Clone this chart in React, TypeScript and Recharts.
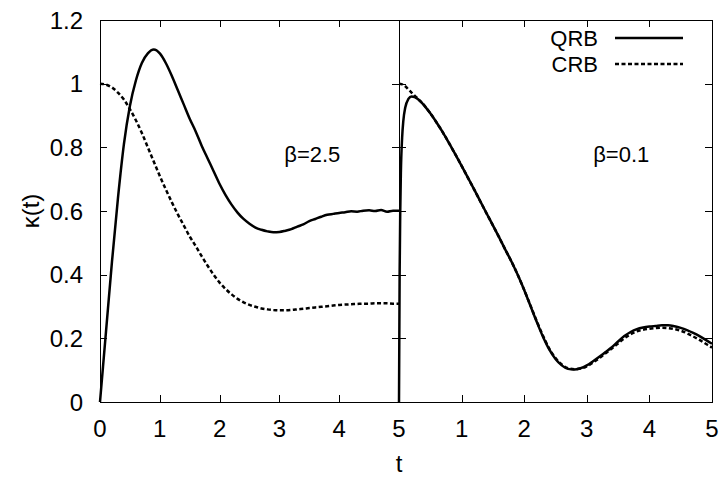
import React from 'react';
import {
  LineChart,
  Line,
  XAxis,
  YAxis,
  Legend,
  ReferenceDot
} from 'recharts';

// beta = 2.5 panel
const tLeft = [
  0, 0.1, 0.2, 0.3, 0.4, 0.5, 0.6, 0.7, 0.8, 0.9,
  1.0, 1.1, 1.2, 1.3, 1.4, 1.5, 1.6, 1.7, 1.8, 1.9,
  2.0, 2.1, 2.2, 2.3, 2.4, 2.5, 2.6, 2.7, 2.8, 2.9,
  3.0, 3.1, 3.2, 3.3, 3.4, 3.5, 3.6, 3.7, 3.8, 3.9,
  4.0, 4.1, 4.2, 4.3, 4.4, 4.5, 4.6, 4.7, 4.8, 4.9, 5.0
];
const qrbLeft = [
  0, 0.22, 0.44, 0.64, 0.81, 0.93, 1.01, 1.065, 1.095, 1.107,
  1.095, 1.065, 1.025, 0.98, 0.935, 0.89, 0.85, 0.805, 0.765, 0.725,
  0.685, 0.65, 0.62, 0.595, 0.575, 0.56, 0.548, 0.541, 0.536, 0.533,
  0.534, 0.538, 0.543, 0.551, 0.558, 0.568, 0.575, 0.582, 0.588, 0.591,
  0.594, 0.596, 0.599, 0.598, 0.601, 0.602, 0.6, 0.603, 0.598, 0.601, 0.601
];
const crbLeft = [
  1.0, 0.997, 0.988, 0.972, 0.95, 0.92, 0.885, 0.845, 0.8, 0.755,
  0.71, 0.668, 0.628, 0.59, 0.555, 0.52, 0.49, 0.458, 0.428, 0.4,
  0.375, 0.355, 0.338, 0.324, 0.313, 0.305, 0.299, 0.294, 0.291, 0.289,
  0.288, 0.288, 0.289, 0.291, 0.293, 0.295, 0.297, 0.299, 0.301, 0.303,
  0.305, 0.306, 0.307, 0.308, 0.309, 0.309, 0.31, 0.31, 0.31, 0.309, 0.309
];

// beta = 0.1 panel
const tRight = [
  0, 0.01, 0.02, 0.03, 0.05, 0.07, 0.1, 0.15, 0.2, 0.25, 0.3,
  0.4, 0.5, 0.6, 0.7, 0.8, 0.9, 1.0, 1.1, 1.2, 1.3,
  1.4, 1.5, 1.6, 1.7, 1.8, 1.9, 2.0, 2.1, 2.2, 2.3,
  2.4, 2.5, 2.6, 2.7, 2.8, 2.9, 3.0, 3.1, 3.2, 3.3,
  3.4, 3.5, 3.6, 3.7, 3.8, 3.9, 4.0, 4.1, 4.2, 4.3,
  4.4, 4.5, 4.6, 4.7, 4.8, 4.9, 5.0
];
const qrbRight = [
  0, 0.4, 0.6, 0.72, 0.83, 0.885, 0.925, 0.952, 0.96, 0.958, 0.952,
  0.932, 0.907, 0.878, 0.847, 0.813, 0.778, 0.742, 0.705, 0.668, 0.63,
  0.592, 0.555, 0.517, 0.478, 0.44, 0.398, 0.352, 0.302, 0.252, 0.205,
  0.165, 0.135, 0.115, 0.104, 0.102, 0.106, 0.115, 0.128, 0.142, 0.157,
  0.172, 0.19, 0.207, 0.22, 0.229, 0.234, 0.237, 0.239, 0.241, 0.241,
  0.238, 0.233, 0.226, 0.217, 0.207, 0.195, 0.183
];
const crbRight = [
  1.0, 1.0, 0.999, 0.999, 0.998, 0.996, 0.992, 0.982, 0.972, 0.962, 0.953,
  0.933, 0.907, 0.878, 0.847, 0.813, 0.778, 0.742, 0.705, 0.668, 0.63,
  0.592, 0.555, 0.517, 0.478, 0.44, 0.398, 0.352, 0.303, 0.254, 0.208,
  0.168, 0.138, 0.118, 0.106, 0.103, 0.105, 0.112, 0.124, 0.138, 0.153,
  0.168, 0.184, 0.2, 0.213, 0.222, 0.227, 0.23, 0.232, 0.233, 0.232,
  0.229, 0.224, 0.216, 0.206, 0.195, 0.183, 0.171
];

const tTicks = [0, 1, 2, 3, 4, 5];
const kTicks = [0, 0.2, 0.4, 0.6, 0.8, 1.0, 1.2];
const tMax = 5;
const kMax = 1.2;

const font = '"Liberation Sans", Arial, Helvetica, sans-serif';
const black = '#000';

// plot box geometry (page pixels), shared by the charts and the frame overlay
const plotTop = 20;
const plotBottom = 402;
const leftX0 = 100;
const splitX = 399;
const rightX1 = 712;
const tickLen = 7;

const seriesStyle: Record<string, { dash?: string }> = {
  QRB: {},
  CRB: { dash: '4 2.5' }
};

type Pt = { t: number; k: number };

const toPoints = (ts: number[], ks: number[]): Pt[] => ts.map((t, i) => ({ t, k: ks[i] }));

const tickStyle = { fill: black, fontSize: 24, fontFamily: font };
const blank = () => '';

// gnuplot-style box with inward ticks on all sides of both panels
function Frame() {
  const kToY = (k: number) => plotBottom - (k / kMax) * (plotBottom - plotTop);
  const panels = [
    [leftX0, splitX],
    [splitX, rightX1]
  ];
  const innerT = tTicks.slice(1, -1);
  const innerK = kTicks.slice(1, -1);
  const d: string[] = [];
  panels.forEach(([x0, x1]) => {
    const tToX = (t: number) => x0 + (t / tMax) * (x1 - x0);
    innerT.forEach(t => {
      const x = Math.round(tToX(t)) + 0.5;
      d.push(`M${x},${plotBottom}v${-tickLen}`);
      d.push(`M${x},${plotTop}v${tickLen}`);
    });
    innerK.forEach(k => {
      const y = Math.round(kToY(k)) + 0.5;
      d.push(`M${x0},${y}h${tickLen}`);
      d.push(`M${x1},${y}h${-tickLen}`);
    });
  });
  return (
    <svg
      width={722}
      height={477}
      style={{ position: 'absolute', left: 0, top: 0, pointerEvents: 'none' }}
    >
      <rect
        x={leftX0 + 0.5}
        y={plotTop + 0.5}
        width={rightX1 - leftX0}
        height={plotBottom - plotTop}
        fill="none"
        stroke={black}
        strokeWidth={1}
      />
      <line
        x1={splitX + 0.5}
        x2={splitX + 0.5}
        y1={plotTop}
        y2={plotBottom}
        stroke={black}
        strokeWidth={1}
      />
      <path d={d.join('')} stroke={black} strokeWidth={1} fill="none" />
    </svg>
  );
}

function LegendBox() {
  const rows = ['QRB', 'CRB'];
  return (
    <svg width={150} height={58} style={{ overflow: 'visible' }}>
      {rows.map((name, i) => (
        <g key={name}>
          <text
            x={58}
            y={22 + i * 26}
            textAnchor="end"
            fontSize={22}
            fontFamily={font}
            fill={black}
          >
            {name}
          </text>
          <line
            x1={75}
            x2={143}
            y1={14 + i * 26}
            y2={14 + i * 26}
            stroke={black}
            strokeWidth={2.5}
            strokeDasharray={seriesStyle[name].dash}
          />
        </g>
      ))}
    </svg>
  );
}

function Panel({
  qrb,
  crb,
  beta,
  first
}: {
  qrb: Pt[];
  crb: Pt[];
  beta: string;
  first: boolean;
}) {
  const width = first ? 420 : 342;
  const margin = first
    ? { top: plotTop, right: 420 - splitX, bottom: 25, left: 40 }
    : { top: plotTop, right: 722 - rightX1, bottom: 25, left: splitX - 380 };

  return (
    <LineChart width={width} height={477} margin={margin}>
      <XAxis
        dataKey="t"
        type="number"
        domain={[0, tMax]}
        ticks={tTicks}
        height={50}
        tickSize={0}
        tickMargin={18}
        tick={tickStyle}
        axisLine={false}
        tickLine={false}
        tickFormatter={(v: number) => (first || v !== 0 ? String(v) : '')}
        label={
          first
            ? {
                content: ({ viewBox }: any) => (
                  <text
                    x={viewBox.x + viewBox.width}
                    y={viewBox.y + 70}
                    textAnchor="middle"
                    fontSize={24}
                    fontFamily={font}
                    fill={black}
                  >
                    t
                  </text>
                )
              }
            : undefined
        }
      />
      <YAxis
        type="number"
        domain={[0, kMax]}
        ticks={kTicks}
        width={first ? 60 : 0}
        tickSize={0}
        tickMargin={17}
        tick={tickStyle}
        axisLine={false}
        tickLine={false}
        tickFormatter={first ? (v: number) => String(Number(v.toFixed(1))) : blank}
        label={
          first
            ? {
                value: 'κ(t)',
                angle: -90,
                position: 'center',
                dx: -40,
                fontSize: 24,
                fontFamily: font,
                fill: black
              }
            : undefined
        }
      />
      <ReferenceDot
        x={3.55}
        y={0.78}
        r={0}
        fill="none"
        stroke="none"
        label={{
          value: beta,
          position: 'center',
          fontSize: 22,
          fontFamily: font,
          fill: black
        }}
      />
      <Line
        data={crb}
        dataKey="k"
        name="CRB"
        type="monotone"
        stroke={black}
        strokeWidth={2.5}
        strokeDasharray={seriesStyle.CRB.dash}
        dot={false}
        isAnimationActive={false}
      />
      <Line
        data={qrb}
        dataKey="k"
        name="QRB"
        type="monotone"
        stroke={black}
        strokeWidth={2.5}
        dot={false}
        isAnimationActive={false}
      />
      {!first && (
        <Legend
          layout="horizontal"
          verticalAlign="middle"
          align="center"
          content={() => <LegendBox />}
          wrapperStyle={{ left: 160, top: 24, width: 150 }}
        />
      )}
    </LineChart>
  );
}

export default function App() {
  return (
    <div
      style={{
        position: 'absolute',
        left: 0,
        top: 0,
        width: 722,
        height: 477,
        background: '#fff',
        overflow: 'hidden'
      }}
    >
      <div style={{ position: 'absolute', left: 0, top: 0 }}>
        <Panel
          qrb={toPoints(tLeft, qrbLeft)}
          crb={toPoints(tLeft, crbLeft)}
          beta="β=2.5"
          first={true}
        />
      </div>
      <div style={{ position: 'absolute', left: 380, top: 0 }}>
        <Panel
          qrb={toPoints(tRight, qrbRight)}
          crb={toPoints(tRight, crbRight)}
          beta="β=0.1"
          first={false}
        />
      </div>
      <Frame />
    </div>
  );
}
